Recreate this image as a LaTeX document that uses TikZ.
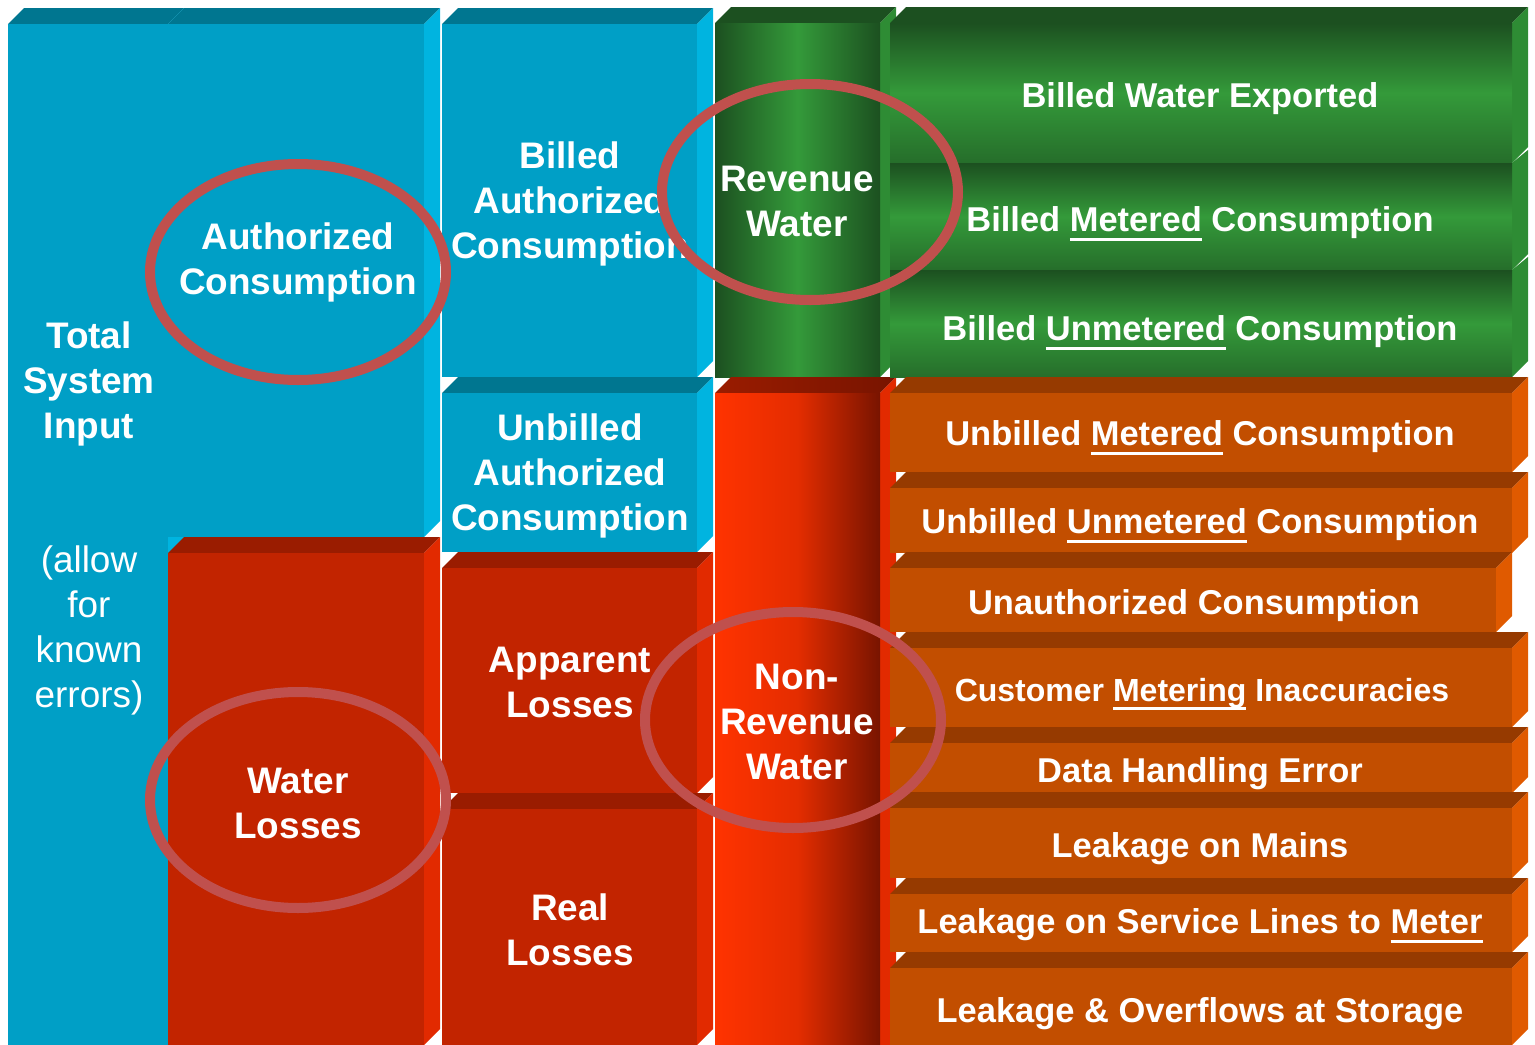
\documentclass[tikz,border=0pt]{standalone}
\usepackage{fontspec}
\setmainfont{Liberation Sans}
\usepackage{tikz}
\definecolor{cyanfront}{RGB}{0,159,198}
\definecolor{cyantop}{RGB}{0,118,144}
\definecolor{cyanside}{RGB}{0,180,224}
\definecolor{redfront}{RGB}{194,36,0}
\definecolor{redtop}{RGB}{154,28,0}
\definecolor{redside}{RGB}{226,42,0}
\definecolor{orfront}{RGB}{194,78,0}
\definecolor{ortop}{RGB}{150,58,0}
\definecolor{orside}{RGB}{224,90,0}
\definecolor{gdark}{RGB}{28,80,32}
\definecolor{gmid}{RGB}{52,154,58}
\definecolor{gside}{RGB}{46,140,52}
\definecolor{nrwleft}{RGB}{255,51,0}
\definecolor{nrwright}{RGB}{120,20,0}
\definecolor{ringred}{RGB}{192,80,77}

% 3D block: x1, y1, x2, y2, front, top, side
\newcommand{\slab}[7]{%
  \fill[#6] (#1,#2) -- ++(16,-16) -- (#3+16,#2-16) -- (#3,#2) -- cycle;
  \fill[#7] (#3,#2) -- ++(16,-16) -- (#3+16,#4-16) -- (#3,#4) -- cycle;
  \fill[#5] (#1,#2) rectangle (#3,#4);
}
\newcommand{\ulw}[1]{\setbox0\hbox{#1}\rlap{\rule[-2.6pt]{\wd0}{0.8pt}}\box0\relax}

\begin{document}
\begin{tikzpicture}[
    x=0.01cm, y=-0.01cm,
    lbl/.style={text=white, align=center, yshift=-0.02cm, font=\bfseries\fontsize{10.5}{12.8}\selectfont},
    note/.style={text=white, align=center, yshift=-0.04cm, font=\fontsize{10.5}{12.8}\selectfont},
    item/.style={text=white, yshift=-0.04cm, font=\bfseries\fontsize{9.8}{12}\selectfont},
    ring/.style={draw=ringred, line width=1mm}
]
\useasboundingbox (0,0) rectangle (1535,1045);

% Columns 1-3
\slab{8}{24}{168}{1045}{cyanfront}{cyantop}{cyanside}
\slab{168}{24}{424}{537}{cyanfront}{cyantop}{cyanside}
\slab{168}{553}{424}{1045}{redfront}{redtop}{redside}
\slab{442}{24}{697}{377}{cyanfront}{cyantop}{cyanside}
\slab{442}{393}{697}{552}{cyanfront}{cyantop}{cyanside}
\slab{442}{568}{697}{793}{redfront}{redtop}{redside}
\slab{442}{809}{697}{1045}{redfront}{redtop}{redside}

% Column 4: revenue / non-revenue
\fill[gdark] (715,23) -- (731,7) -- (896,7) -- (880,23) -- cycle;
\fill[gside] (880,23) -- (896,7) -- (896,361) -- (880,377) -- cycle;
\shade[left color=gdark, right color=gdark, middle color=gmid] (715,23) rectangle (880,377);
\shade[left color=redtop, right color=nrwright] (715,393) -- (731,377) -- (896,377) -- (880,393) -- cycle;
\fill[redside] (880,393) -- (896,377) -- (896,1045) -- (880,1045) -- cycle;
\shade[left color=nrwleft, right color=nrwright, middle color=nrwleft!80!nrwright] (715,393) rectangle (880,1045);

% Column 5: billed items
\fill[gdark] (890,23) -- (906,7) -- (1528,7) -- (1512,23) -- cycle;
\fill[gside] (1512,23) -- (1528,7) -- (1528,147) -- (1512,163) -- cycle;
\fill[gside] (1512,163) -- (1528,150) -- (1528,254) -- (1512,270) -- cycle;
\fill[gside] (1512,270) -- (1528,257) -- (1528,361) -- (1512,377) -- cycle;
\shade[top color=gdark, bottom color=gdark!60!gmid, middle color=gmid] (890,23) rectangle (1512,163);
\shade[top color=gdark, bottom color=gdark!60!gmid, middle color=gmid] (890,163) rectangle (1512,270);
\shade[top color=gdark, bottom color=gdark!60!gmid, middle color=gmid] (890,270) rectangle (1512,377);

% Column 5: unbilled items and losses
\slab{890}{393}{1512}{472}{orfront}{ortop}{orside}
\slab{890}{488}{1512}{553}{orfront}{ortop}{orside}
\slab{890}{568}{1496}{632}{orfront}{ortop}{orside}
\slab{890}{648}{1512}{727}{orfront}{ortop}{orside}
\slab{890}{743}{1512}{793}{orfront}{ortop}{orside}
\slab{890}{808}{1512}{878}{orfront}{ortop}{orside}
\slab{890}{894}{1512}{952}{orfront}{ortop}{orside}
\slab{890}{968}{1512}{1045}{orfront}{ortop}{orside}

% Labels
\node[lbl, yshift=-0.02cm] (total) at (89,380) {Total\\System\\Input};
\node[note] (allow) at (89,626) {(allow\\for\\known\\errors)};
\node[lbl] (authcons) at (298,260) {Authorized\\Consumption};
\node[lbl] (waterloss) at (298,801) {Water\\Losses};
\node[lbl] (billedauth) at (570,202) {Billed\\Authorized\\Consumption};
\node[lbl] (unbilledauth) at (570,474) {Unbilled\\Authorized\\Consumption};
\node[lbl] (apparent) at (570,680) {Apparent\\Losses};
\node[lbl] (real) at (570,928) {Real\\Losses};
\node[lbl] (revenue) at (797,199) {Revenue\\Water};
\node[lbl] (nonrevenue) at (797,720) {Non-\\Revenue\\Water};

\node[item] (exported) at (1200,95) {Billed Water Exported};
\node[item] (billedmet) at (1200,220) {Billed \ulw{Metered} Consumption};
\node[item] (billedunmet) at (1200,329) {Billed \ulw{Unmetered} Consumption};
\node[item] (unbilledmet) at (1200,434) {Unbilled \ulw{Metered} Consumption};
\node[item] (unbilledunmet) at (1200,522) {Unbilled \ulw{Unmetered} Consumption};
\node[item] (unauth) at (1194,602) {Unauthorized Consumption};
\node[item, font=\bfseries\fontsize{9.1}{11}\selectfont] (metering) at (1202,690) {Customer \ulw{Metering} Inaccuracies};
\node[item] (datahandling) at (1200,770) {Data Handling Error};
\node[item] (mains) at (1200,845) {Leakage on Mains};
\node[item] (servicelines) at (1200,922) {Leakage on Service Lines to \ulw{Meter}};
\node[item] (storage) at (1200,1010) {Leakage \& Overflows at Storage};

% Rings
\draw[ring] (298,272) ellipse [x radius=148, y radius=108];
\draw[ring] (810,192) ellipse [x radius=148, y radius=108];
\draw[ring] (298,800) ellipse [x radius=148, y radius=108];
\draw[ring] (793,720) ellipse [x radius=148, y radius=108];

\end{tikzpicture}
\end{document}
